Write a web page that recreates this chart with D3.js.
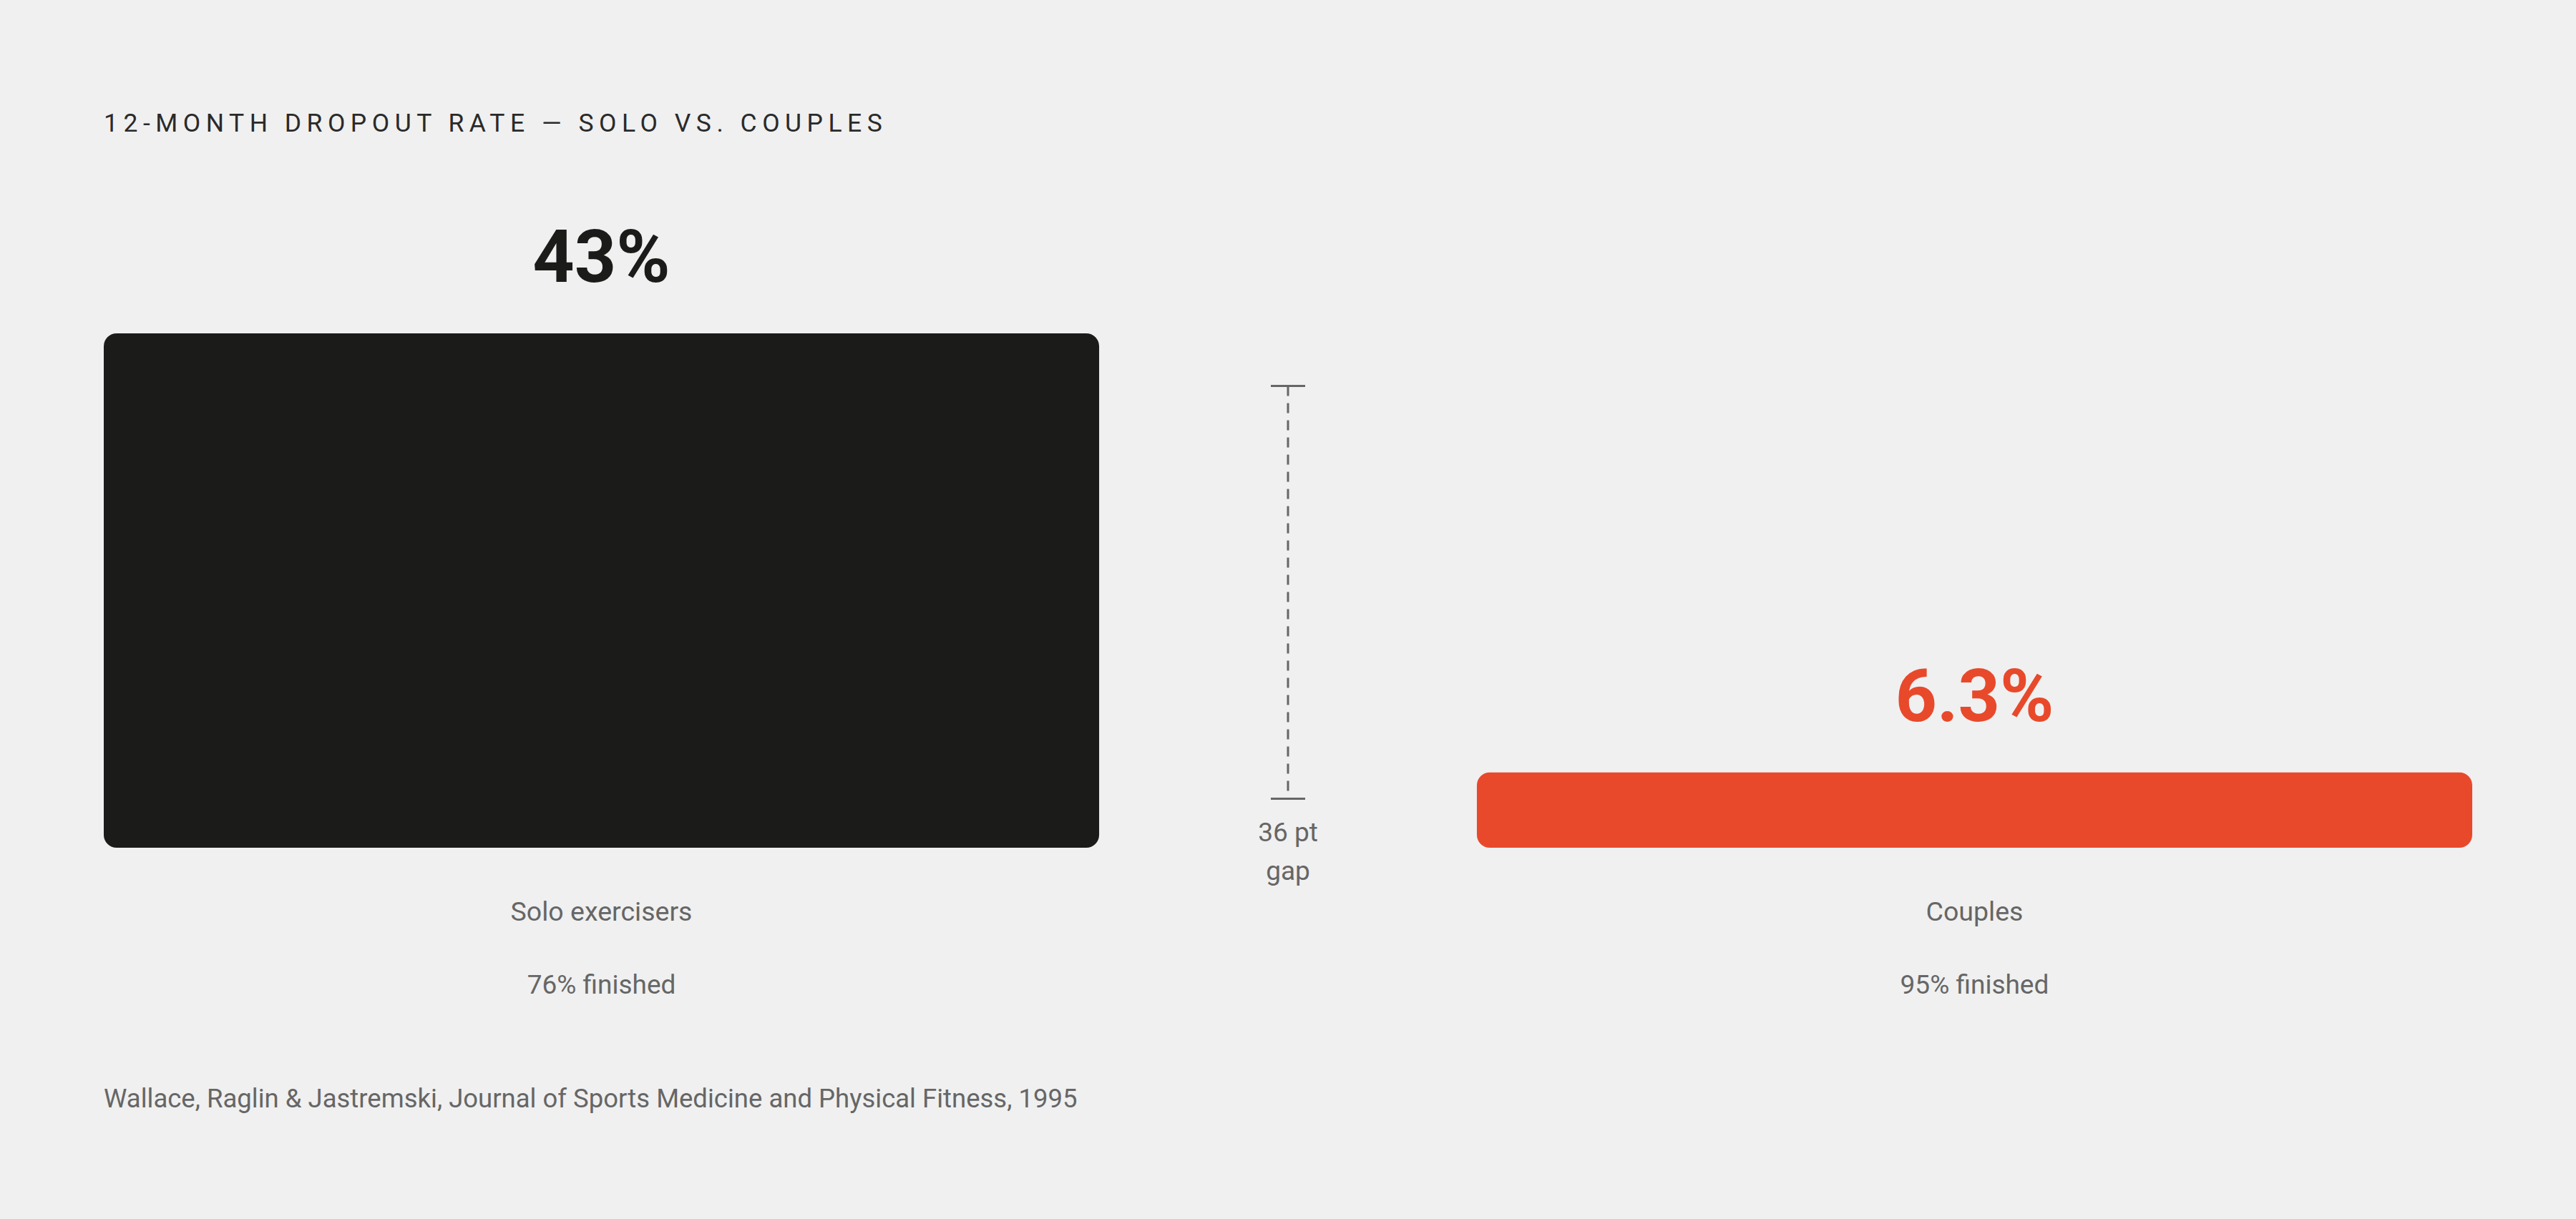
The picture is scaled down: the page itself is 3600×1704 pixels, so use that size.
<!DOCTYPE html>
<html>
<head>
<meta charset="utf-8">
<script src="https://cdn.jsdelivr.net/npm/d3@7"></script>
<style>
  html, body { margin: 0; padding: 0; background: #f0f0f0; }
  svg { display: block; }
  text { font-family: Roboto, "Noto Sans", sans-serif; }
</style>
</head>
<body>
<svg id="chart"></svg>
<script>
// --- data ---
const groups = ['Solo exercisers', 'Couples'];
const dropout = [43, 6.3];
const dropoutLabels = ['43%', '6.3%'];
const finishedLabels = ['76% finished', '95% finished'];
const barColors = ['#1b1b19', '#e8492b'];
const gapRange = [38.6, 4.1];          // span of the dashed bracket, in value units
const gapLines = ['36 pt', 'gap'];
const title = '12-MONTH DROPOUT RATE \u2014 SOLO VS. COUPLES';
const source = 'Wallace, Raglin & Jastremski, Journal of Sports Medicine and Physical Fitness, 1995';

const W = 3600, H = 1704;
const svg = d3.select('#chart').attr('width', W).attr('height', H);

svg.append('rect').attr('width', W).attr('height', H).attr('fill', '#f0f0f0');

// scales
const x = d3.scaleBand().domain(groups).range([145, 3455]).paddingInner(0.2751).paddingOuter(0);
const y = d3.scaleLinear().domain([0, 43]).range([1185, 466]);

// title
svg.append('text')
    .attr('x', 145).attr('y', 184)
    .attr('font-size', 35.5)
    .attr('letter-spacing', 7.5)
    .attr('fill', '#2a2a2a')
    .text(title);

const rows = groups.map((g, i) => ({
    group: g, value: dropout[i], label: dropoutLabels[i],
    finished: finishedLabels[i], color: barColors[i]
}));

const bar = svg.selectAll('g.bar').data(rows).join('g').attr('class', 'bar');

bar.append('rect')
    .attr('x', d => x(d.group))
    .attr('y', d => y(d.value))
    .attr('width', x.bandwidth())
    .attr('height', d => y(0) - y(d.value))
    .attr('rx', 18).attr('ry', 18)
    .attr('fill', d => d.color);

bar.append('text')
    .attr('x', d => x(d.group) + x.bandwidth() / 2)
    .attr('y', d => y(d.value) - 72)
    .attr('text-anchor', 'middle')
    .attr('font-size', 102)
    .attr('font-weight', 700)
    .attr('fill', d => d.color)
    .text(d => d.label);

bar.append('text')
    .attr('x', d => x(d.group) + x.bandwidth() / 2)
    .attr('y', y(0) + 102)
    .attr('text-anchor', 'middle')
    .attr('font-size', 37.5)
    .attr('fill', '#666')
    .text(d => d.group);

bar.append('text')
    .attr('x', d => x(d.group) + x.bandwidth() / 2)
    .attr('y', y(0) + 204)
    .attr('text-anchor', 'middle')
    .attr('font-size', 37)
    .attr('fill', '#666')
    .text(d => d.finished);

// gap bracket between the bars
const gx = (x(groups[0]) + x.bandwidth() + x(groups[1])) / 2;
const bracket = svg.append('g').attr('stroke', '#666').attr('stroke-width', 3);
bracket.append('line')
    .attr('x1', gx).attr('x2', gx)
    .attr('y1', y(gapRange[0])).attr('y2', y(gapRange[1]))
    .attr('stroke-dasharray', '14 10');
gapRange.forEach(v => {
    bracket.append('line')
        .attr('x1', gx - 24).attr('x2', gx + 24)
        .attr('y1', y(v)).attr('y2', y(v));
});

svg.append('text')
    .attr('x', gx).attr('y', y(gapRange[1]) + 60)
    .attr('text-anchor', 'middle')
    .attr('font-size', 37)
    .attr('fill', '#666')
    .selectAll('tspan').data(gapLines).join('tspan')
    .attr('x', gx)
    .attr('dy', (d, i) => i === 0 ? 0 : 54)
    .text(d => d);

// source
svg.append('text')
    .attr('x', 145).attr('y', 1548)
    .attr('font-size', 36.5)
    .attr('fill', '#666')
    .text(source);
</script>
</body>
</html>
